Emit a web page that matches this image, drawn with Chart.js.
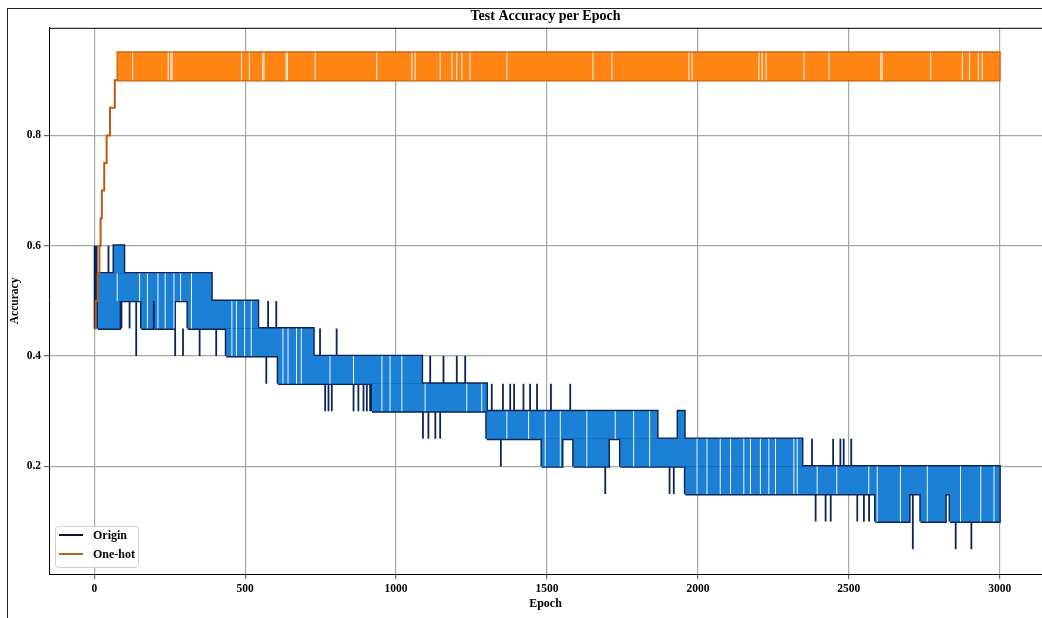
<!DOCTYPE html>
<html>
<head>
<meta charset="utf-8">
<title>Test Accuracy per Epoch</title>
<script src="https://cdn.jsdelivr.net/npm/chart.js@4.4.1/dist/chart.umd.min.js"></script>
<style>
  html, body { margin: 0; padding: 0; background: #fff; overflow: hidden; }
  #wrap { position: relative; width: 1042px; height: 618px; }
  #frame { position: absolute; left: 7px; top: 8px; width: 1100px; height: 700px;
           border-left: 1px solid #222; border-top: 1px solid #222; pointer-events: none; }
</style>
</head>
<body>
<div id="wrap">
  <canvas id="accChart" width="1042" height="618"></canvas>
  <div id="frame"></div>
</div>
<script>
const seriesNames = ["Origin", "One-hot"];
const xTicks = [0, 500, 1000, 1500, 2000, 2500, 3000];
const yTicks = [0.2, 0.4, 0.6, 0.8];

// Origin: epoch ranges where accuracy flips between two levels every epoch -> [from, to, low, high]
const originBlocks = [
    [12, 388, 0.50, 0.55], [65, 98, 0.55, 0.60], [12, 84, 0.45, 0.50],
    [156, 194, 0.45, 0.50], [200, 266, 0.45, 0.50], [310, 542, 0.45, 0.50],
    [437, 726, 0.40, 0.45], [609, 1085, 0.35, 0.40], [920, 1300, 0.30, 0.35],
    [1300, 1865, 0.25, 0.30], [1934, 1955, 0.25, 0.30], [1483, 1550, 0.20, 0.25],
    [1588, 1704, 0.20, 0.25], [1743, 2345, 0.20, 0.25], [1958, 2999, 0.15, 0.20],
    [2588, 2700, 0.10, 0.15], [2738, 2820, 0.10, 0.15], [2835, 2999, 0.10, 0.15]
];
// Origin: single-epoch jumps outside the band -> [epoch, low, high]
const originSpikes = [
    [1, 0.45, 0.60], [4, 0.45, 0.60], [8, 0.45, 0.60], [47, 0.55, 0.60],
    [90, 0.45, 0.50], [117, 0.45, 0.50], [139, 0.40, 0.50],
    [268, 0.40, 0.45], [294, 0.40, 0.45], [349, 0.40, 0.45], [404, 0.40, 0.45],
    [570, 0.35, 0.40], [576, 0.45, 0.50], [603, 0.45, 0.50],
    [748, 0.40, 0.45], [803, 0.40, 0.45],
    [765, 0.30, 0.35], [776, 0.30, 0.35], [787, 0.30, 0.35], [859, 0.30, 0.35],
    [875, 0.30, 0.35], [892, 0.30, 0.35], [903, 0.30, 0.35], [914, 0.30, 0.35],
    [1089, 0.25, 0.30], [1107, 0.25, 0.30], [1130, 0.25, 0.30], [1146, 0.25, 0.30],
    [1113, 0.35, 0.40], [1157, 0.35, 0.40], [1201, 0.35, 0.40], [1229, 0.35, 0.40],
    [1317, 0.30, 0.35], [1347, 0.20, 0.25], [1354, 0.30, 0.35], [1378, 0.30, 0.35],
    [1391, 0.30, 0.35], [1422, 0.30, 0.35], [1444, 0.30, 0.35], [1467, 0.30, 0.35],
    [1513, 0.30, 0.35], [1577, 0.30, 0.35],
    [1693, 0.15, 0.20], [1906, 0.15, 0.20], [1920, 0.15, 0.20],
    [2378, 0.20, 0.25], [2448, 0.20, 0.25], [2472, 0.20, 0.25], [2483, 0.20, 0.25], [2508, 0.20, 0.25],
    [2390, 0.10, 0.15], [2423, 0.10, 0.15], [2440, 0.10, 0.15],
    [2528, 0.10, 0.15], [2550, 0.10, 0.15], [2567, 0.10, 0.15],
    [2712, 0.05, 0.15], [2854, 0.05, 0.10], [2906, 0.05, 0.10]
];
// Origin: short runs where the value holds (white slits in the band) -> [epoch, low, high]
const originGaps = [
    [76, 0.50, 0.55], [150, 0.50, 0.55], [176, 0.45, 0.55], [211, 0.45, 0.55],
    [235, 0.45, 0.55], [264, 0.45, 0.55], [286, 0.50, 0.55], [322, 0.45, 0.55],
    [456, 0.40, 0.50], [471, 0.40, 0.50], [498, 0.40, 0.50], [520, 0.40, 0.50],
    [625, 0.35, 0.45], [642, 0.35, 0.45], [670, 0.35, 0.45], [686, 0.35, 0.45],
    [781, 0.35, 0.40], [859, 0.35, 0.40], [953, 0.30, 0.40], [980, 0.30, 0.40],
    [1019, 0.30, 0.40], [1096, 0.30, 0.35], [1234, 0.30, 0.35], [1284, 0.30, 0.35],
    [1367, 0.25, 0.30], [1439, 0.25, 0.30], [1494, 0.20, 0.30], [1544, 0.20, 0.30],
    [1632, 0.20, 0.30], [1726, 0.25, 0.30], [1787, 0.20, 0.30], [1840, 0.20, 0.30],
    [1997, 0.15, 0.25], [2030, 0.15, 0.25], [2074, 0.15, 0.25], [2108, 0.15, 0.25],
    [2152, 0.15, 0.25], [2174, 0.15, 0.25], [2207, 0.15, 0.25], [2235, 0.15, 0.25],
    [2257, 0.15, 0.25], [2318, 0.15, 0.25], [2329, 0.15, 0.25], [2395, 0.15, 0.20],
    [2460, 0.15, 0.20], [2566, 0.15, 0.20], [2594, 0.10, 0.20], [2671, 0.10, 0.20],
    [2760, 0.10, 0.20], [2870, 0.10, 0.20], [2937, 0.10, 0.20], [2981, 0.10, 0.20]
];

// One-hot: early climb [epoch, accuracy], then the 0.90/0.95 band
const oneHotRamp = [
    [0, 0.45], [5, 0.50], [11, 0.55], [17, 0.60], [21, 0.65], [25, 0.70],
    [33, 0.75], [41, 0.80], [52, 0.85], [68, 0.90], [78, 0.90]
];
const oneHotBlocks = [[78, 2999, 0.90, 0.95]];
const oneHotGaps = [
    127, 245, 254, 258, 488, 514, 558, 562, 636, 640, 732, 936, 1052, 1063, 1146,
    1185, 1201, 1218, 1245, 1367, 1652, 1715, 1970, 1981, 2202, 2213, 2226, 2351,
    2434, 2606, 2610, 2771, 2876, 2900, 2929, 2942
];

const navy = "#0a2456";
const blue = "#1c80d7";
const orange = "#ff8515";
const orangeEdge = "#cc6510";
const serif = "'Liberation Serif', 'DejaVu Serif', serif";

// closed outline for each block, broken apart by a null point
function boxPoints(blocks) {
    let pts = [];
    blocks.forEach(([a, b, lo, hi]) => {
        pts.push({x: a, y: lo}, {x: a, y: hi}, {x: b, y: hi}, {x: b, y: lo}, {x: a, y: lo}, {x: b, y: null});
    });
    return pts;
}

// one vertical stroke per entry
function stickPoints(marks) {
    let pts = [];
    marks.forEach(([e, lo, hi]) => {
        pts.push({x: e, y: lo}, {x: e, y: hi}, {x: e, y: null});
    });
    return pts;
}

const band = oneHotBlocks[0];
const oneHotSlits = oneHotGaps.map(e => [e, band[2], band[3]]);

const topSpine = {
    id: "topSpine",
    afterDraw(chart) {
        const {ctx, chartArea} = chart;
        ctx.save();
        ctx.strokeStyle = "#000";
        ctx.lineWidth = 1;
        ctx.beginPath();
        ctx.moveTo(chartArea.left, chartArea.top + 0.5);
        ctx.lineTo(chartArea.right, chartArea.top + 0.5);
        ctx.stroke();
        ctx.restore();
    }
};

const legendBox = {
    id: "legendBox",
    afterDatasetsDraw(chart) {
        const {ctx, chartArea} = chart;
        const w = 83, h = 41;
        const x = chartArea.left + 6, y = chartArea.bottom - 7 - h;
        const colors = ["#0d1424", "#b5651d"];
        ctx.save();
        ctx.beginPath();
        ctx.roundRect(x + 0.5, y + 0.5, w, h, 3);
        ctx.fillStyle = "rgba(255,255,255,0.85)";
        ctx.fill();
        ctx.strokeStyle = "#cfcfcf";
        ctx.lineWidth = 1;
        ctx.stroke();
        ctx.font = "bold 12px " + serif;
        ctx.textBaseline = "middle";
        seriesNames.forEach((name, i) => {
            const cy = y + 9 + i * 19;
            ctx.strokeStyle = colors[i];
            ctx.lineWidth = 2;
            ctx.beginPath();
            ctx.moveTo(x + 4, cy);
            ctx.lineTo(x + 28, cy);
            ctx.stroke();
            ctx.fillStyle = "#000";
            ctx.fillText(name, x + 38, cy + 1);
        });
        ctx.restore();
    }
};

Chart.defaults.font.family = serif;
Chart.defaults.color = "#000";

const ctx = document.getElementById("accChart").getContext("2d");
const accChart = new Chart(ctx, {
    type: "line",
    data: {
        datasets: [
            { label: "One-hot climb", data: oneHotRamp.map(([x, y]) => ({x, y})), stepped: true,
              borderColor: "#b95b12", borderWidth: 2, fill: false, order: 0 },
            { label: "One-hot slits", data: stickPoints(oneHotSlits), borderColor: "#fff6ea",
              borderWidth: 1, fill: false, order: 1 },
            { label: "One-hot band", data: boxPoints(oneHotBlocks), borderColor: "transparent",
              borderWidth: 0.01, backgroundColor: orange, fill: "shape", order: 2 },
            { label: "One-hot edge", data: boxPoints(oneHotBlocks), borderColor: orangeEdge,
              borderWidth: 2.6, fill: false, order: 3 },
            { label: "Origin slits", data: stickPoints(originGaps), borderColor: "#eef6ff",
              borderWidth: 1, fill: false, order: 4 },
            { label: "Origin band", data: boxPoints(originBlocks), borderColor: "transparent",
              borderWidth: 0.01, backgroundColor: blue, fill: "shape", order: 5 },
            { label: "Origin edge", data: boxPoints(originBlocks), borderColor: navy,
              borderWidth: 2.8, fill: false, order: 6 },
            { label: "Origin spikes", data: stickPoints(originSpikes), borderColor: navy,
              borderWidth: 1.8, fill: false, order: 7 }
        ]
    },
    options: {
        responsive: false,
        animation: false,
        events: [],
        spanGaps: false,
        elements: { point: { radius: 0 }, line: { tension: 0 } },
        layout: { padding: 0 },
        plugins: {
            legend: { display: false },
            tooltip: { enabled: false },
            title: {
                display: true,
                text: "Test Accuracy per Epoch",
                fullSize: false,
                font: { size: 14, weight: "bold" },
                padding: { top: 8, bottom: 3 }
            }
        },
        scales: {
            x: {
                type: "linear",
                min: -150,
                max: 3140,
                afterBuildTicks: scale => { scale.ticks = xTicks.map(v => ({value: v})); },
                afterFit: scale => { scale.height = 44; },
                ticks: { font: { size: 11.5, weight: "bold" }, padding: 3, callback: v => String(v) },
                grid: { color: "#a6a6a6", lineWidth: 1.2, tickLength: 5, tickColor: "#666" },
                border: { color: "#000", width: 1 },
                title: { display: true, text: "Epoch", font: { size: 12, weight: "bold" },
                         padding: { top: 2, bottom: 7 } }
            },
            y: {
                min: 0.005,
                max: 0.995,
                afterBuildTicks: scale => { scale.ticks = yTicks.map(v => ({value: v})); },
                afterFit: scale => { scale.width = 49; },
                ticks: { font: { size: 11.5, weight: "bold" }, padding: 3, callback: v => v.toFixed(1) },
                grid: { color: "#a6a6a6", lineWidth: 1.2, tickLength: 5, tickColor: "#666" },
                border: { color: "#000", width: 1 },
                title: { display: true, text: "Accuracy", font: { size: 11.5, weight: "bold" },
                         padding: { top: 8, bottom: 2 } }
            }
        }
    },
    plugins: [topSpine, legendBox]
});
</script>
</body>
</html>
